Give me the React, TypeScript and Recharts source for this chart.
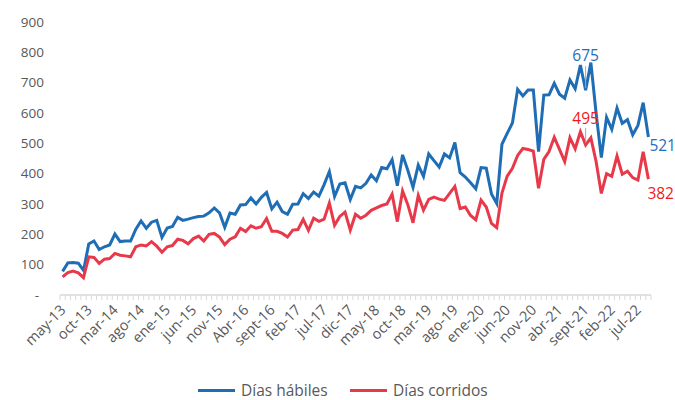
import React from 'react';
import { LineChart, Line, XAxis, YAxis, LabelList } from 'recharts';

const MONTHS = ['ene', 'feb', 'mar', 'abr', 'may', 'jun', 'jul', 'ago', 'sept', 'oct', 'nov', 'dic'];
const START_MONTH = 4; // may
const START_YEAR = 2013;

const diasHabiles = [
  78, 106, 107, 105, 81, 168, 178, 150, 159, 165,
  201, 176, 178, 178, 217, 244, 220, 240, 246, 190,
  221, 226, 256, 246, 250, 255, 259, 260, 271, 287,
  271, 223, 270, 266, 297, 298, 320, 300, 322, 338,
  284, 306, 275, 266, 299, 300, 334, 318, 339, 326,
  364, 407, 325, 366, 370, 315, 358, 353, 368, 396,
  377, 420, 416, 446, 360, 462, 411, 355, 428, 391,
  465, 443, 422, 465, 452, 503, 403, 389, 370, 350,
  420, 418, 333, 302, 497, 533, 567, 678, 656, 676,
  676, 473, 659, 660, 698, 662, 649, 709, 680, 758,
  675, 766, 600, 453, 586, 546, 616, 566, 578, 528,
  559, 634, 521,
];

const diasCorridos = [
  60, 74, 79, 73, 57, 126, 124, 104, 118, 120,
  137, 131, 129, 126, 159, 165, 162, 176, 161, 141,
  159, 163, 184, 180, 169, 186, 194, 178, 200, 203,
  191, 166, 184, 192, 220, 209, 228, 220, 225, 252,
  210, 210, 203, 191, 214, 216, 249, 213, 253, 243,
  250, 303, 230, 259, 273, 214, 266, 253, 263, 279,
  287, 295, 300, 332, 242, 343, 298, 238, 328, 280,
  315, 323, 316, 312, 335, 358, 285, 290, 262, 248,
  313, 290, 236, 222, 336, 392, 418, 460, 483, 480,
  474, 352, 447, 473, 520, 480, 440, 519, 482, 538,
  495, 518, 440, 335, 400, 391, 458, 398, 408, 387,
  379, 472, 382,
];

const tickLabels = [
  'may-13', 'oct-13', 'mar-14', 'ago-14', 'ene-15', 'jun-15', 'nov-15', 'Abr-16',
  'sept-16', 'feb-17', 'jul-17', 'dic-17', 'may-18', 'oct-18', 'mar-19', 'ago-19',
  'ene-20', 'jun-20', 'nov-20', 'abr-21', 'sept-21', 'feb-22', 'jul-22',
];

const yTicks = [0, 100, 200, 300, 400, 500, 600, 700, 800, 900];

const BLUE = '#1f6db4';
const RED = '#e8394a';
const BLUE_TEXT = '#1f6fc0';
const RED_TEXT = '#f01a1a';
const GRAY_TEXT = '#595959';
const FONT = '"Open Sans", sans-serif';

const categories = diasHabiles.map((_, i) => {
  const m = (START_MONTH + i) % 12;
  const y = START_YEAR + Math.floor((START_MONTH + i) / 12);
  return `${MONTHS[m]}-${String(y).slice(2)}`;
});

const data = categories.map((c, i) => ({
  mes: c,
  habiles: diasHabiles[i],
  corridos: diasCorridos[i],
}));

const HALF_STEP = 2.61;

const XTick = (props: any) => {
  const { x, y, index } = props;
  const label = index % 5 === 0 ? tickLabels[index / 5] : null;
  return (
    <g>
      <line x1={x - HALF_STEP} x2={x - HALF_STEP} y1={y} y2={y + 5} stroke="#d9d9d9" strokeWidth={1} />
      {index === data.length - 1 && (
        <line x1={x + HALF_STEP} x2={x + HALF_STEP} y1={y} y2={y + 5} stroke="#d9d9d9" strokeWidth={1} />
      )}
      {label && (
        <text
          x={x + 4}
          y={y + 16}
          transform={`rotate(-45 ${x + 4} ${y + 16})`}
          textAnchor="end"
          fill={GRAY_TEXT}
          fontSize={14.5}
          fontFamily={FONT}
        >
          {label}
        </text>
      )}
    </g>
  );
};

const YTick = (props: any) => {
  const { y, payload } = props;
  const v = payload.value;
  return (
    <text
      x={v === 0 ? 39 : 44}
      y={y}
      dy="0.35em"
      textAnchor="end"
      fill={GRAY_TEXT}
      fontSize={13.5}
      fontFamily={FONT}
    >
      {v === 0 ? '-' : v}
    </text>
  );
};

const BlueLabel = (props: any) => {
  const { x, y, value, index } = props;
  if (index === 100) {
    return (
      <g>
        <line x1={x} x2={x} y1={y - 24} y2={y - 2} stroke="#a6a6a6" strokeWidth={1} />
        <text x={x} y={y - 35} dy="0.35em" textAnchor="middle" fill={BLUE_TEXT} fontSize={15.5} fontFamily={FONT}>
          {value}
        </text>
      </g>
    );
  }
  if (index === data.length - 1) {
    return (
      <text x={x + 1} y={y + 9} dy="0.35em" textAnchor="start" fill={BLUE_TEXT} fontSize={15.5} fontFamily={FONT}>
        {value}
      </text>
    );
  }
  return null;
};

const RedLabel = (props: any) => {
  const { x, y, value, index } = props;
  if (index === 100) {
    return (
      <g>
        <line x1={x} x2={x} y1={y - 17} y2={y - 2} stroke="#a6a6a6" strokeWidth={1} />
        <text x={x} y={y - 26} dy="0.35em" textAnchor="middle" fill={RED_TEXT} fontSize={15.5} fontFamily={FONT}>
          {value}
        </text>
      </g>
    );
  }
  if (index === data.length - 1) {
    return (
      <text x={x - 1} y={y + 14} dy="0.35em" textAnchor="start" fill={RED_TEXT} fontSize={15.5} fontFamily={FONT}>
        {value}
      </text>
    );
  }
  return null;
};

const LegendItem = ({ color, text, left }: { color: string; text: string; left: number }) => (
  <div style={{ position: 'absolute', left, top: 379, display: 'flex', alignItems: 'center', lineHeight: '22px' }}>
    <div style={{ width: 37, height: 3, background: color, marginRight: 6, flex: 'none' }} />
    <span style={{ fontFamily: FONT, fontSize: 15.5, lineHeight: '22px', color: GRAY_TEXT, whiteSpace: 'nowrap' }}>{text}</span>
  </div>
);

export default function App() {
  return (
    <div style={{ position: 'absolute', left: 0, top: 0, width: 675, height: 402, background: '#fff' }}>
      <LineChart
        width={675}
        height={400}
        data={data}
        margin={{ top: 22, right: 24, bottom: 0, left: 0 }}
      >
        <XAxis
          dataKey="mes"
          interval={0}
          tickLine={false}
          tickSize={0}
          tickMargin={0}
          height={105}
          padding={{ left: 2.6, right: 2.6 }}
          axisLine={{ stroke: '#d9d9d9', strokeWidth: 1.5 }}
          tick={<XTick />}
        />
        <YAxis
          width={60}
          domain={[0, 900]}
          ticks={yTicks}
          axisLine={false}
          tickLine={false}
          tick={<YTick />}
        />
        <Line
          type="linear"
          dataKey="habiles"
          name="Días hábiles"
          stroke={BLUE}
          strokeWidth={3}
          dot={false}
          isAnimationActive={false}
        >
          <LabelList dataKey="habiles" content={<BlueLabel />} />
        </Line>
        <Line
          type="linear"
          dataKey="corridos"
          name="Días corridos"
          stroke={RED}
          strokeWidth={3}
          dot={false}
          isAnimationActive={false}
        >
          <LabelList dataKey="corridos" content={<RedLabel />} />
        </Line>
      </LineChart>
      <LegendItem color={BLUE} text="Días hábiles" left={198} />
      <LegendItem color={RED} text="Días corridos" left={350} />
    </div>
  );
}
